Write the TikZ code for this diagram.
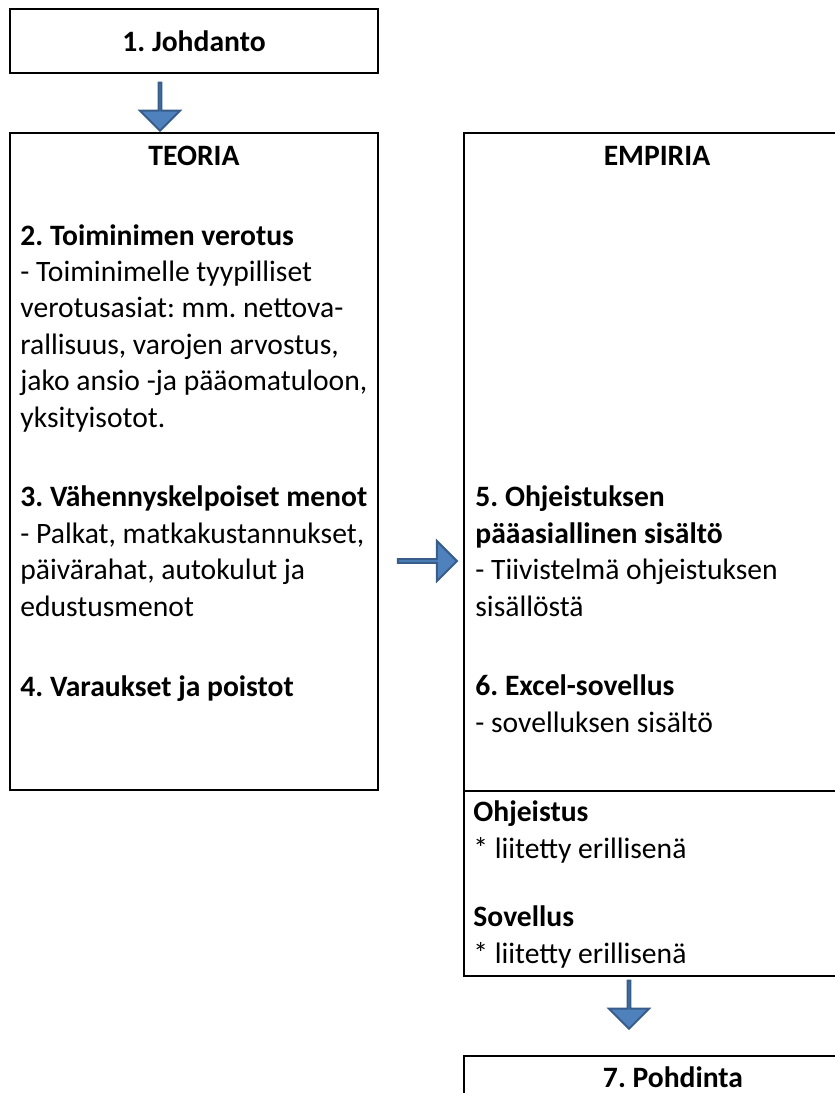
\documentclass[tikz,border=0pt]{standalone}
\usepackage{fontspec}
\setmainfont{Carlito}
\usepackage{tikz}
\usetikzlibrary{shapes.arrows, positioning}
\definecolor{arrowfill}{RGB}{79, 129, 189}
\definecolor{arrowedge}{RGB}{56, 93, 138}
\frenchspacing

\begin{document}
\begin{tikzpicture}[
    x=0.5pt, y=-0.5pt,
    box/.style={draw=black, line width=1.4pt, inner sep=0pt, font=\fontsize{14.8}{18.2}\selectfont\bfseries},
    txt/.style={anchor=base west, inner sep=0pt, align=left, font=\fontsize{14.8}{18.2}\selectfont},
    head/.style={anchor=base, inner sep=0pt, font=\fontsize{14.8}{18.2}\selectfont\bfseries},
    blockarrow/.style={single arrow, draw=arrowedge, fill=arrowfill, line width=1pt,
                       inner sep=0pt, single arrow tip angle=90}
]
    \useasboundingbox (0,0) rectangle (835,1093);
    \clip (0,0) rectangle (835,1093);

    % ==================== BOXES ====================
    \node[box, minimum width=184pt, minimum height=32pt] (johdanto) at (194,41) {1. Johdanto};
    \node[box, minimum width=184pt, minimum height=328.5pt] (teoria) at (194,461.5) {};
    \node[box, minimum width=193.5pt, minimum height=329pt] (empiria) at (657.5,462) {};
    \node[box, minimum width=193.5pt, minimum height=92.5pt] (liitteet) at (657.5,883.5) {};
    \node[box, minimum width=209pt, minimum height=37pt] (pohdinta) at (673,1093) {};

    % ==================== TEORIA ====================
    % (base anchor = baseline of the last line)
    \node[head] (teoriahead) at (194,165) {TEORIA};
    \node[txt] (verotus) at (20,427) {\textbf{2. Toiminimen verotus}\\
        - Toiminimelle tyypilliset\\
        verotusasiat: mm. nettova-\\
        rallisuus, varojen arvostus,\\
        jako ansio -ja pääomatuloon,\\
        yksityisotot.};
    \node[txt] (menot) at (20,616) {\textbf{3. Vähennyskelpoiset menot}\\
        - Palkat, matkakustannukset,\\
        päivärahat, autokulut ja\\
        edustusmenot};
    \node[txt] (varaukset) at (20,696) {\textbf{4. Varaukset ja poistot}};

    % ==================== EMPIRIA ====================
    \node[head] (empiriahead) at (657,165) {EMPIRIA};
    \node[txt] (sisalto) at (475,616) {\textbf{5. Ohjeistuksen}\\
        \textbf{pääasiallinen sisältö}\\
        - Tiivistelmä ohjeistuksen\\
        sisällöstä};
    \node[txt] (excel) at (475,732) {\textbf{6. Excel-sovellus}\\
        - sovelluksen sisältö};
    \node[txt] (ohjeistus) at (473,858) {\textbf{Ohjeistus}\\
        * liitetty erillisenä};
    \node[txt] (sovellus) at (473,963) {\textbf{Sovellus}\\
        * liitetty erillisenä};

    % ==================== POHDINTA ====================
    \node[head] (pohdintahead) at (673,1087) {7. Pohdinta};

    % ==================== ARROWS ====================
    \node[blockarrow, rotate=-90, minimum height=24pt, minimum width=20pt,
          single arrow head extend=7pt] (nuoli1) at (160,106) {};
    \node[blockarrow, minimum height=29.5pt, minimum width=20pt,
          single arrow head extend=5pt] (nuoli2) at (426.5,561) {};
    \node[blockarrow, rotate=-90, minimum height=24pt, minimum width=20pt,
          single arrow head extend=7pt] (nuoli3) at (629,1004) {};
\end{tikzpicture}
\end{document}
